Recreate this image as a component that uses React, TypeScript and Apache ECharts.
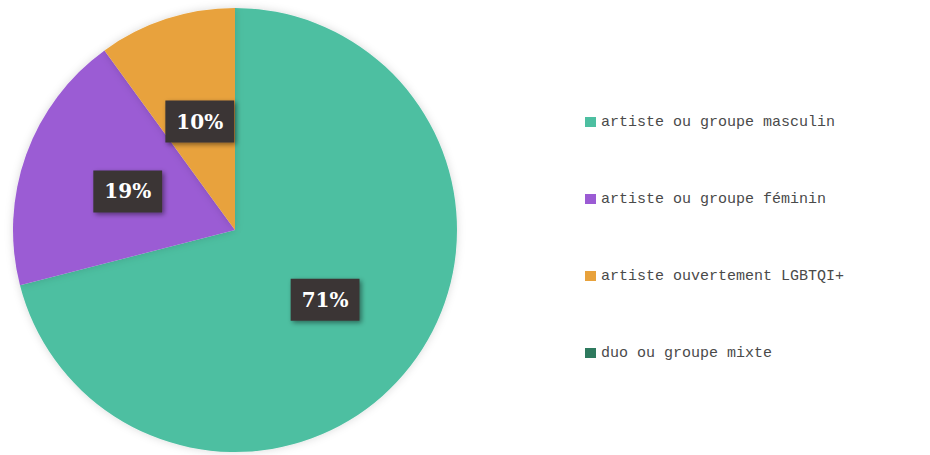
import React, { useEffect, useRef } from "react";
import * as echarts from "echarts";

const categories = [
  "artiste ou groupe masculin",
  "artiste ou groupe féminin",
  "artiste ouvertement LGBTQI+",
  "duo ou groupe mixte",
];
const values = [71, 19, 10, 0];
const colors = ["#4dbfa1", "#9b5bd4", "#e8a23c", "#2e7a5e"];

export default function App() {
  const ref = useRef<HTMLDivElement>(null);
  useEffect(() => {
    document.body.style.margin = "0";
    const chart = echarts.init(ref.current!, null, { renderer: "svg" });
    chart.setOption({
      animation: false,
      backgroundColor: "#ffffff",
      color: colors,
      legend: {
        orient: "vertical",
        left: 580,
        top: 107,
        icon: "rect",
        itemWidth: 11,
        itemHeight: 10,
        itemGap: 57,
        data: categories,
        textStyle: {
          fontFamily: "Liberation Mono",
          fontSize: 15,
          color: "#4a4a4a",
          lineHeight: 20,
        },
      },
      series: [
        {
          type: "pie",
          center: [235, 230],
          radius: 222,
          startAngle: 90,
          clockwise: true,
          avoidLabelOverlap: false,
          itemStyle: {
            shadowBlur: 8,
            shadowColor: "rgba(0,0,0,0.15)",
          },
          emphasis: { disabled: true },
          label: {
            show: true,
            position: "inside",
            formatter: "{c}%",
            color: "#ffffff",
            fontFamily: "DejaVu Serif",
            fontWeight: "bold",
            fontSize: 20,
            lineHeight: 24,
            backgroundColor: "#3a3536",
            padding: [9, 11],
            shadowBlur: 5,
            shadowColor: "rgba(0,0,0,0.45)",
            shadowOffsetX: 2,
            shadowOffsetY: 2,
          },
          labelLine: { show: false },
          data: categories.map((name, i) => ({
            name,
            value: values[i],
            label: values[i] === 0 ? { show: false } : undefined,
          })),
        },
      ],
    });
    return () => chart.dispose();
  }, []);
  return <div ref={ref} style={{ width: 930, height: 455 }} />;
}
